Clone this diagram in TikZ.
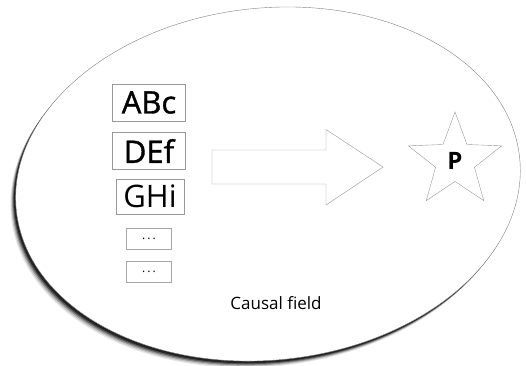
\documentclass[tikz,border=0pt]{standalone}
\usepackage{fontspec}
\setmainfont{Open Sans}
\newfontfamily\causefont{Open Sans}[FakeBold=1.2]
\usetikzlibrary{shapes.geometric}
\tikzset{
  cause/.style={draw=gray!80, thin, inner sep=0pt, minimum width=73pt, minimum height=37pt,
    font=\causefont\fontsize{31}{31}\selectfont},
  more/.style={draw=gray!70, thin, inner sep=0pt, minimum width=45pt, minimum height=21pt,
    font=\fontsize{12}{12}\selectfont},
}
\begin{document}
\begin{tikzpicture}[x=1pt,y=-1pt]
      \useasboundingbox (0,0) rectangle (526,365);
      \coordinate (c) at (268,184);
      % blurred shadow of the field
      \foreach \s/\o in {6/0.1, 5/0.15, 4/0.25, 3/0.4, 2/0.6}
        \fill[black, opacity=\o, rotate around={6:(c)}] ([shift={(-\s,\s)}]c) ellipse [x radius=253, y radius=176];
      \draw[gray, fill=white, rotate around={6:(c)}] (c) ellipse [x radius=253, y radius=176];
      \draw
        (149,102.5) node[cause] (abc){ABc}
        (149,151) node[cause] (def){DEf}
        (150,196.5) node[cause, font=\fontsize{31}{31}\selectfont, minimum width=68pt, minimum height=35pt] (ghi){GHi}
        (149,239) node[more] (m1){.\,.\,.}
        (149,272) node[more] (m2){.\,.\,.};
      \draw[gray!80]
        (212,150) -- (326,150) -- (326,129.5) -- (383,167)
        -- (326,205) -- (326,184) -- (212,184) -- cycle;
      \node[star, star points=5, star point ratio=2.4, draw=gray!80, inner sep=0pt,
        minimum size=98pt, font=\fontsize{24}{24}\selectfont\bfseries] (p) at (455,161) {P};
      \node[font=\fontsize{17}{17}\selectfont] (field) at (276,303) {Causal field};
    \end{tikzpicture}
\end{document}
